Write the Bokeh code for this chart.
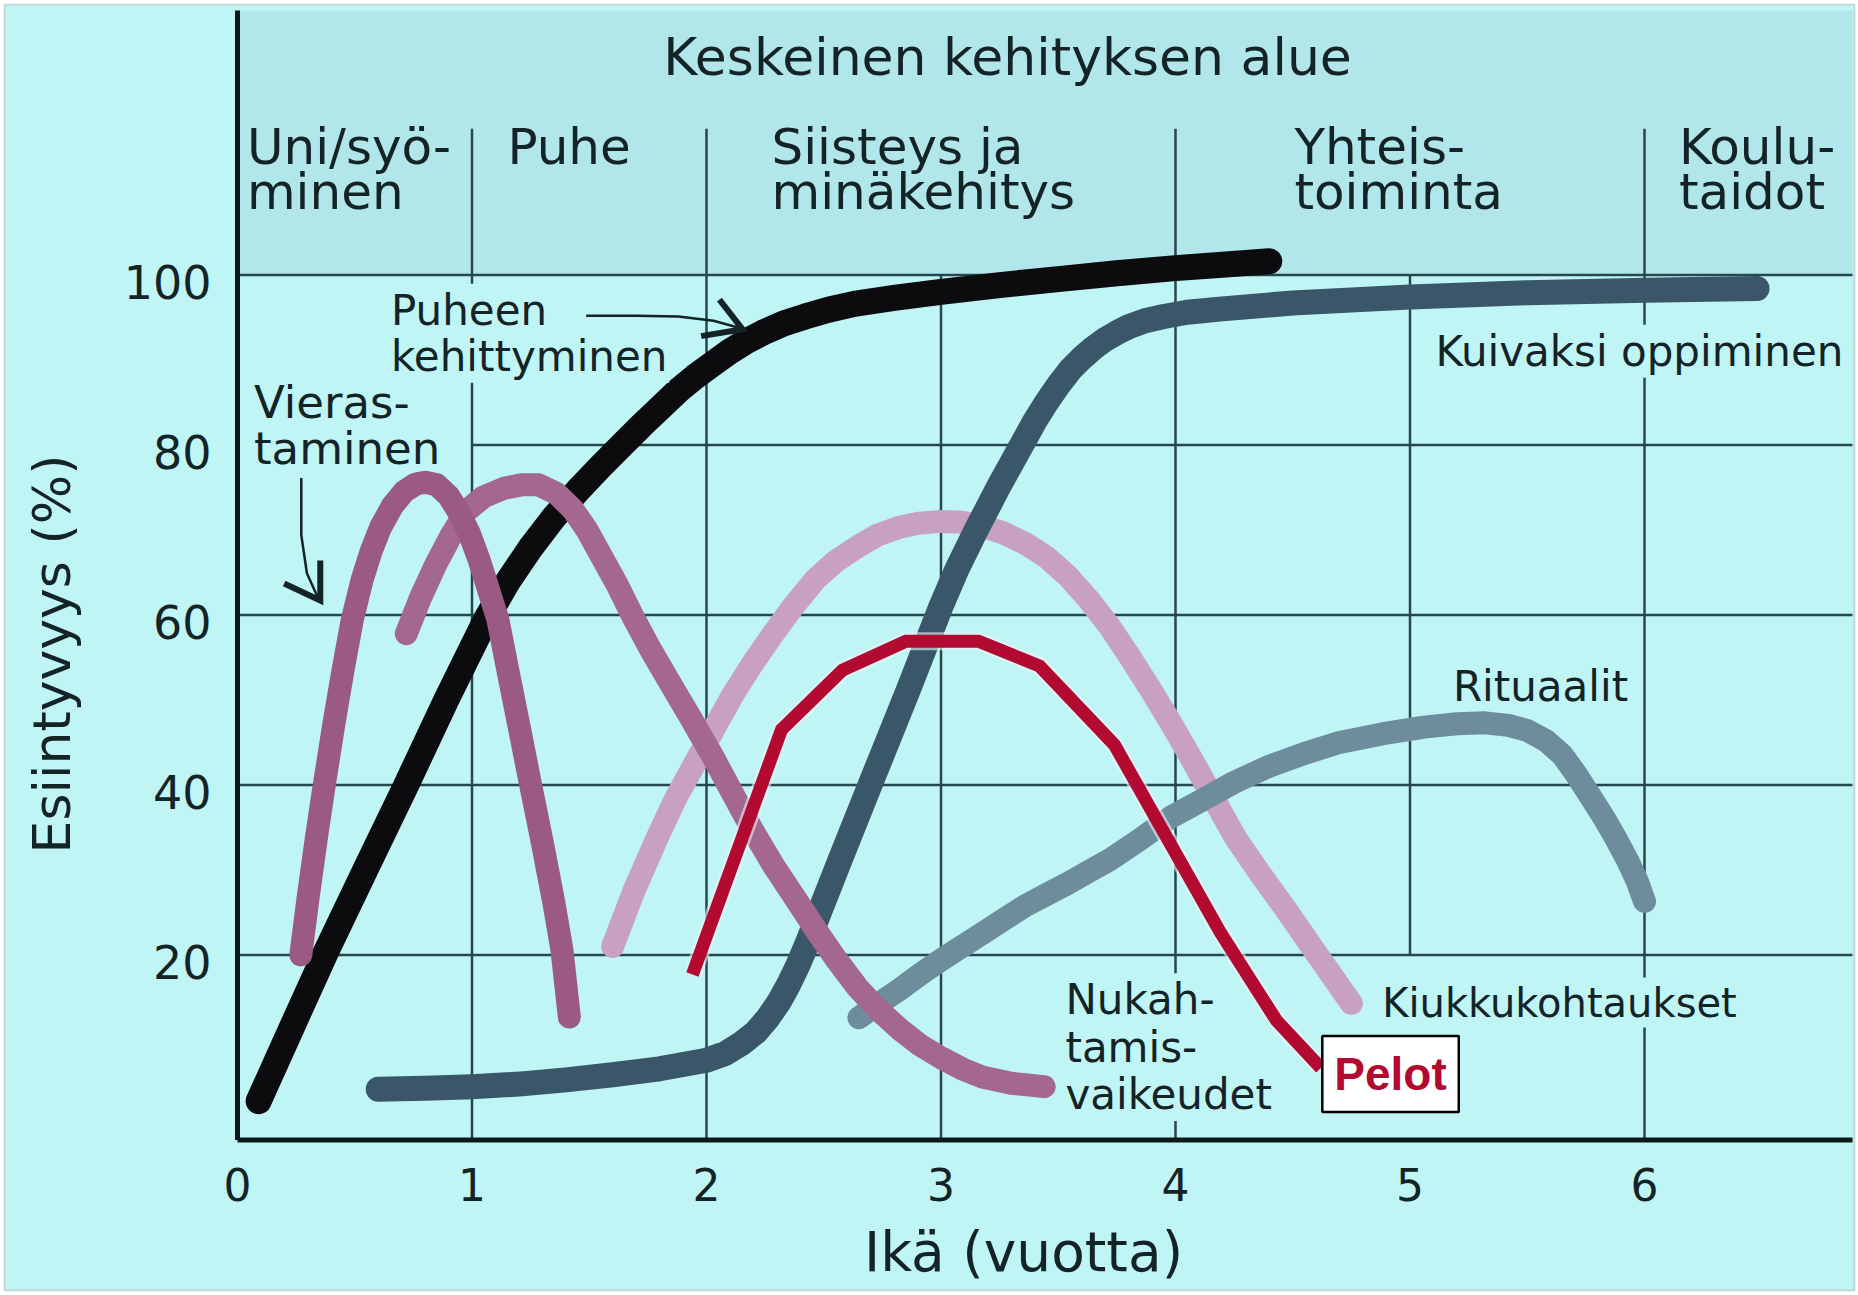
import math
from bokeh.plotting import figure
from bokeh.models import Label, BoxAnnotation
from bokeh.core.properties import value
from bokeh.embed import file_html
from bokeh.resources import INLINE

# ---------------- data ----------------
age_ticks = [0, 1, 2, 3, 4, 5, 6]
pct_ticks = [20, 40, 60, 80, 100]

# Puheen kehittyminen (black)
speech_x = [0.09, 0.25, 0.38, 0.55, 0.72, 0.89, 1.06, 1.15, 1.25, 1.35, 1.45, 1.55, 1.64, 1.72, 1.80,
            1.88, 1.95, 2.03, 2.10, 2.17, 2.24, 2.33, 2.42, 2.52, 2.63, 2.8, 3.0, 3.25, 3.5, 3.75,
            4.0, 4.2, 4.4]
speech_y = [2.8, 12.6, 20.5, 30.3, 40.0, 50.0, 59.5, 63.8, 67.9, 71.5, 74.6, 77.5, 80.0, 82.2, 84.3,
            86.4, 88.0, 89.6, 91.0, 92.2, 93.2, 94.3, 95.1, 95.9, 96.6, 97.3, 98.0, 98.8, 99.5, 100.2,
            100.8, 101.2, 101.6]

# Vierastaminen (dark mauve)
stranger_x = [0.27, 0.30, 0.335, 0.37, 0.41, 0.45, 0.49, 0.53, 0.57, 0.61, 0.66, 0.71, 0.76, 0.80,
              0.85, 0.90, 0.95, 0.99, 1.03, 1.07, 1.11, 1.16, 1.20, 1.25, 1.30, 1.35, 1.384, 1.415]
stranger_y = [20.0, 26.5, 33.5, 40.0, 47.0, 53.5, 59.5, 64.0, 67.5, 70.3, 72.8, 74.5, 75.4, 75.6,
              75.3, 74.0, 71.8, 69.5, 66.5, 63.0, 59.5, 52.5, 47.0, 40.0, 33.2, 26.0, 20.5, 12.7]

# Nukahtamisvaikeudet (mauve)
sleep_x = [0.72, 0.78, 0.845, 0.91, 0.975, 1.05, 1.137, 1.21, 1.284, 1.36, 1.43, 1.49, 1.544, 1.62, 1.69,
           1.76, 1.836, 1.93, 2.03, 2.107, 2.2, 2.286, 2.38, 2.465, 2.55, 2.643, 2.73, 2.822, 2.91, 3.0,
           3.09, 3.18, 3.3, 3.44]
sleep_y = [57.8, 62.0, 65.9, 69.3, 72.2, 73.9, 74.9, 75.3, 75.3, 74.3, 72.4, 70.0, 67.3, 63.5, 59.6,
           56.0, 52.4, 48.0, 43.2, 39.2, 34.5, 30.5, 26.6, 23.0, 19.6, 16.2, 13.6, 11.3, 9.4, 7.9,
           6.6, 5.6, 4.9, 4.5]

# Kiukkukohtaukset (light mauve)
tantrum_x = [1.60, 1.69, 1.79, 1.87, 1.95, 2.03, 2.11, 2.19, 2.28, 2.37, 2.465, 2.55, 2.643, 2.73, 2.822,
             2.91, 3.0, 3.09, 3.18, 3.27, 3.36, 3.45, 3.54, 3.63, 3.72, 3.80, 3.89, 3.98, 4.07, 4.16,
             4.26, 4.37, 4.48, 4.6, 4.75]
tantrum_y = [21.0, 27.5, 33.8, 38.5, 42.5, 46.5, 50.5, 54.0, 57.6, 61.0, 64.2, 66.3, 68.0, 69.4, 70.3,
             70.8, 71.0, 70.9, 70.4, 69.6, 68.4, 66.8, 64.6, 61.8, 58.6, 55.3, 51.4, 47.3, 43.0, 38.5,
             33.6, 29.2, 25.0, 20.2, 14.3]

# Kuivaksi oppiminen (dark slate)
dry_x = [0.60, 0.8, 1.0, 1.2, 1.4, 1.6, 1.8, 2.0, 2.08, 2.15, 2.21, 2.26, 2.31, 2.35, 2.39, 2.43, 2.47,
         2.57, 2.715, 2.858, 3.0, 3.07, 3.15, 3.25, 3.30, 3.35, 3.40, 3.45, 3.50, 3.55, 3.60, 3.65,
         3.70, 3.75, 3.80, 3.87, 3.95, 4.05, 4.2, 4.5, 5.0, 5.5, 6.0, 6.48]
dry_y = [4.2, 4.3, 4.5, 4.8, 5.3, 5.9, 6.6, 7.6, 8.4, 9.6, 10.9, 12.5, 14.5, 16.5, 18.8, 21.4, 24.2,
         31.2, 41.2, 51.0, 61.0, 65.5, 70.0, 75.3, 77.8, 80.3, 82.8, 85.0, 87.0, 88.8, 90.2, 91.4,
         92.4, 93.2, 93.9, 94.6, 95.1, 95.6, 96.0, 96.7, 97.4, 97.9, 98.2, 98.4]

# Rituaalit (steel blue)
ritual_x = [2.65, 2.73, 2.822, 2.91, 3.0, 3.09, 3.18, 3.27, 3.36, 3.45, 3.54, 3.63, 3.72, 3.85, 3.98, 4.1,
            4.25, 4.4, 4.55, 4.70, 4.88, 5.06, 5.2, 5.32, 5.42, 5.50, 5.58, 5.65, 5.71, 5.77, 5.83, 5.88,
            5.93, 5.97, 6.0]
ritual_y = [12.6, 14.2, 15.9, 17.7, 19.4, 21.0, 22.6, 24.2, 25.8, 27.1, 28.4, 29.8, 31.2, 33.6, 36.2, 38.0,
            40.3, 42.2, 43.7, 45.0, 46.0, 46.8, 47.2, 47.3, 47.0, 46.4, 45.2, 43.5, 41.2, 38.6, 36.0, 33.6,
            31.0, 28.6, 26.3]

# Pelot (red polyline)
fear_x = [1.94, 2.32, 2.58, 2.85, 3.16, 3.42, 3.74, 4.19, 4.43, 4.62]
fear_y = [17.7, 46.5, 53.5, 56.9, 56.9, 54.0, 44.7, 22.7, 12.3, 6.7]

# header: development areas
area_titles = [["Uni/syö-", "minen"], ["Puhe"], ["Siisteys ja", "minäkehitys"],
               ["Yhteis-", "toiminta"], ["Koulu-", "taidot"]]
area_x = [0.04, 1.151, 2.277, 4.507, 6.147]
area_dividers = [1, 2, 4, 6]
header_title = "Keskeinen kehityksen alue"
x_title = "Ikä (vuotta)"
y_title = "Esiintyvyys (%)"

# ---------------- style / geometry ----------------
FONT = "DejaVu Sans"
BG = "#c0f5f6"
HEADER_BG = "#b1e7eb"
GRID = "#27474f"
AXIS = "#0d181a"
TXT = "#142326"
RED = "#b20a30"
PX_PER_YEAR = 234.5
PX_PER_UNIT = 8.5
W, H = 1858, 1295
ORIGIN_PX = (237, 1124.4)          # where age 0 / 0 % sit on the canvas
X0 = -ORIGIN_PX[0] / PX_PER_YEAR
X1 = (W - ORIGIN_PX[0]) / PX_PER_YEAR
Y1 = ORIGIN_PX[1] / PX_PER_UNIT
Y0 = (ORIGIN_PX[1] - H) / PX_PER_UNIT
PLOT_RIGHT = 6.887                 # right edge of the drawing
PLOT_BOTTOM = -1.78                # the x axis line sits a little below 0 %
PLOT_TOP = 131.1
HEADER_DIV_TOP = 117.2

p = figure(width=W, height=H, x_range=(X0, X1), y_range=(Y0, Y1),
           output_backend="svg", toolbar_location=None,
           x_axis_type=None, y_axis_type=None, min_border=0,
           background_fill_color="white", border_fill_color="white", outline_line_color=None)
p.xgrid.visible = False
p.ygrid.visible = False

# picture background with a thin grey frame, and the header band
p.add_layout(BoxAnnotation(left=X0 + 4 / PX_PER_YEAR, right=X1 - 4 / PX_PER_YEAR,
                           top=Y1 - 4 / PX_PER_UNIT, bottom=Y0 + 5 / PX_PER_UNIT,
                           fill_color=BG, fill_alpha=1.0, line_color="#8c8c8c", line_width=2,
                           level="underlay"))
p.add_layout(BoxAnnotation(left=0, right=PLOT_RIGHT, bottom=100, top=PLOT_TOP,
                           fill_color=HEADER_BG, fill_alpha=1.0, line_color=None, level="underlay"))

# grid lines (horizontal; the 80 line starts at 1 year, hidden by the label)
h_x0 = [0, 0, 0, 1, 0]
p.segment(x0=h_x0, y0=pct_ticks, x1=[PLOT_RIGHT] * len(pct_ticks), y1=pct_ticks,
          line_color=GRID, line_width=2.5)
v_x = age_ticks[1:]
v_y0 = [PLOT_BOTTOM if a != 5 else 20 for a in v_x]
v_y1 = [HEADER_DIV_TOP if a in area_dividers else 100 for a in v_x]
p.segment(x0=v_x, y0=v_y0, x1=v_x, y1=v_y1, line_color=GRID, line_width=2.5)

# axis lines
p.segment(x0=[0, 0], y0=[PLOT_BOTTOM, PLOT_BOTTOM], x1=[PLOT_RIGHT, 0], y1=[PLOT_BOTTOM, PLOT_TOP],
          line_color=AXIS, line_width=5)

# tick labels
p.text(x=age_ticks, y=[PLOT_BOTTOM - 44 / PX_PER_UNIT] * len(age_ticks),
       text=[str(a) for a in age_ticks], text_font=value(FONT), text_font_size="44px",
       text_color=TXT, text_align="center", text_baseline="middle")
p.text(x=[-26 / PX_PER_YEAR] * len(pct_ticks), y=[t - 0.8 for t in pct_ticks],
       text=[str(t) for t in pct_ticks], text_font=value(FONT), text_font_size="46px",
       text_color=TXT, text_align="right", text_baseline="middle")

# curves
p.line(tantrum_x, tantrum_y, line_width=23, line_color="#c7a0c2", line_cap="round", line_join="round")
p.line(ritual_x, ritual_y, line_width=23, line_color="#6d8c9c", line_cap="round", line_join="round")
p.line(dry_x, dry_y, line_width=25, line_color="#3a5769", line_cap="round", line_join="round")
p.line(speech_x, speech_y, line_width=26, line_color="#0c0c0e", line_cap="round", line_join="round")
p.line(sleep_x, sleep_y, line_width=23, line_color="#a4678f", line_cap="round", line_join="round")
p.line(stranger_x, stranger_y, line_width=23, line_color="#9a5a84", line_cap="round", line_join="round")
p.line(fear_x, fear_y, line_width=18, line_color="#e8f4f8", line_alpha=0.6, line_join="miter")
p.line(fear_x, fear_y, line_width=13, line_color=RED, line_join="miter")

# arrows for the annotations
arrow1_shaft_x = [1.487, 1.70, 1.88, 2.03, 2.15]
arrow1_shaft_y = [95.2, 95.2, 95.1, 94.6, 93.7]
arrow1_head_x = [2.055, 2.154, 1.977]
arrow1_head_y = [97.1, 93.6, 92.8]
arrow2_shaft_x = [0.272, 0.272, 0.296, 0.345]
arrow2_shaft_y = [76.1, 69.4, 64.9, 61.9]
arrow2_head_x = [0.353, 0.353, 0.199]
arrow2_head_y = [66.4, 61.7, 63.7]
for sx, sy, hx, hy in ((arrow1_shaft_x, arrow1_shaft_y, arrow1_head_x, arrow1_head_y),
                       (arrow2_shaft_x, arrow2_shaft_y, arrow2_head_x, arrow2_head_y)):
    p.line(sx, sy, line_width=2.5, line_color=TXT)
    p.line(hx, hy, line_width=6, line_color=TXT, line_join="miter")


def add_text(x, baseline_y, text, size, bg=False, **kw):
    # labels are anchored at their middle; baseline_y is where the letters sit
    opts = dict(x=x, y=baseline_y + 0.35 * size / PX_PER_UNIT, text=text, text_font=FONT,
                text_font_size=f"{size}px", text_color=TXT, text_align="left",
                text_baseline="middle")
    if bg:
        opts.update(background_fill_color=BG, background_fill_alpha=1.0, padding=2)
    opts.update(kw)
    p.add_layout(Label(**opts))


# header texts
add_text(3.284, 123.5, header_title, 52, text_align="center")
for lines, ax_ in zip(area_titles, area_x):
    for i, line in enumerate(lines):
        add_text(ax_, 113.0 - 5.3 * i, line, 50)

# curve labels
add_text(0.646, 94.1, "Puheen", 42, bg=True)
add_text(0.646, 88.7, "kehittyminen", 42, bg=True)
add_text(0.07, 83.1, "Vieras-", 45)
add_text(0.07, 77.7, "taminen", 45)
add_text(5.10, 89.3, "Kuivaksi oppiminen", 42, bg=True)
add_text(5.183, 49.9, "Rituaalit", 42)
add_text(4.873, 12.75, "Kiukkukohtaukset", 40, bg=True)
for i, line in enumerate(["Nukah-", "tamis-", "vaikeudet"]):
    add_text(3.522, 12.99 - 5.57 * i, line, 42, bg=True)

p.add_layout(Label(x=4.917, y=5.99, text="Pelot", text_font="Liberation Sans",
                   text_font_style="bold", text_font_size="46px", text_color=RED,
                   text_align="center", text_baseline="middle",
                   background_fill_color="white", background_fill_alpha=1.0,
                   border_line_color="black", border_line_width=2.5, padding=12))

# axis titles
add_text(3.352, -17.2, x_title, 55, text_align="center")
p.add_layout(Label(x=-0.793, y=55.4, text=y_title, angle=math.pi / 2, text_font=FONT,
                   text_font_size="52px", text_color=TXT, text_align="center",
                   text_baseline="middle"))

open("out.html", "w").write(file_html(p, INLINE))
